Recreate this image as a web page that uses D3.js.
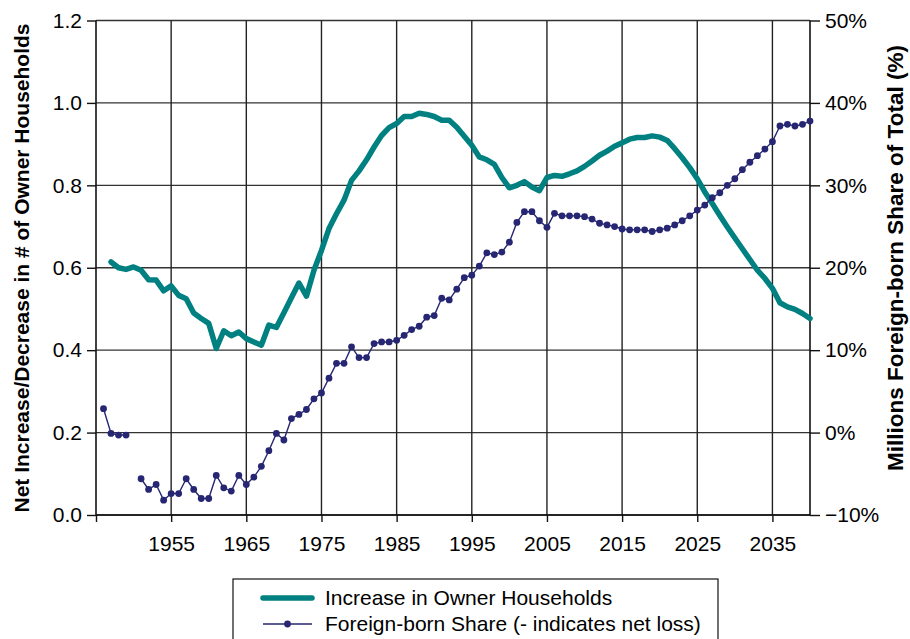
<!DOCTYPE html>
<html><head><meta charset="utf-8">
<script src="https://cdn.jsdelivr.net/npm/d3@7/dist/d3.min.js"></script>
<style>
html,body{margin:0;padding:0;background:#fff;}
svg text{font-family:"Liberation Sans",Arial,sans-serif;fill:#000;}
</style></head>
<body>
<svg id="chart" width="910" height="639"></svg>
<script>
// ---- data ----
const firstYear = 1946, lastYear = 2040;
const years = d3.range(firstYear, lastYear + 1);
// Increase in owner households (millions), 1946..2040 (null = no value)
const ownerHouseholds = [
  null, 0.614, 0.600, 0.596, 0.602, 0.594, 0.571, 0.570, 0.544, 0.556,
  0.533, 0.525, 0.490, 0.477, 0.465, 0.404, 0.447, 0.435, 0.444, 0.428,
  0.420, 0.412, 0.461, 0.455, 0.491, 0.527, 0.563, 0.531, 0.594, 0.642,
  0.695, 0.731, 0.764, 0.812, 0.835, 0.862, 0.893, 0.921, 0.940, 0.950,
  0.967, 0.967, 0.975, 0.972, 0.967, 0.958, 0.958, 0.941, 0.919, 0.897,
  0.869, 0.862, 0.851, 0.819, 0.794, 0.800, 0.809, 0.796, 0.787, 0.819,
  0.824, 0.822, 0.828, 0.835, 0.846, 0.859, 0.873, 0.883, 0.895, 0.903,
  0.912, 0.916, 0.916, 0.920, 0.917, 0.909, 0.889, 0.867, 0.843, 0.816,
  0.784, 0.756, 0.727, 0.699, 0.672, 0.646, 0.620, 0.594, 0.574, 0.550,
  0.515, 0.505, 0.499, 0.489, 0.477
];
// Foreign-born share (%), 1946..2040 (null = no value)
const foreignShare = [
  2.9, -0.1, -0.3, -0.3, null, -5.6, -6.9, -6.3, -8.2, -7.4,
  -7.4, -5.6, -6.9, -8.0, -8.0, -5.2, -6.7, -7.1, -5.2, -6.3,
  -5.4, -4.1, -2.2, -0.1, -0.9, 1.7, 2.2, 2.8, 4.1, 4.8,
  6.6, 8.4, 8.4, 10.4, 9.1, 9.1, 10.8, 11.0, 11.0, 11.2,
  11.8, 12.5, 12.9, 14.0, 14.2, 16.3, 16.1, 17.4, 18.8, 19.1,
  20.2, 21.8, 21.6, 21.9, 23.1, 25.5, 26.8, 26.8, 25.7, 24.9,
  26.6, 26.3, 26.3, 26.3, 26.2, 25.9, 25.4, 25.2, 25.0, 24.7,
  24.6, 24.6, 24.6, 24.4, 24.6, 24.8, 25.2, 25.7, 26.3, 27.0,
  27.6, 28.5, 29.1, 30.0, 30.8, 31.9, 32.8, 33.6, 34.4, 35.3,
  37.2, 37.4, 37.2, 37.4, 37.8
];
const xTickYears = [1955, 1965, 1975, 1985, 1995, 2005, 2015, 2025, 2035];
const leftTicks = [0, 0.2, 0.4, 0.6, 0.8, 1.0, 1.2];
const rightTicks = [-10, 0, 10, 20, 30, 40, 50];
const seriesNames = ["Increase in Owner Households", "Foreign-born Share (- indicates net loss)"];
const leftTitle = "Net Increase/Decrease in # of Owner Households";
const rightTitle = "Millions Foreign-born Share of Total (%)";

// ---- layout ----
const L = 96, R = 810, T = 20.5, B = 515;
const teal = "#008080", navy = "#262673";
const svg = d3.select("#chart");

const x = d3.scaleLinear().domain([1945, 2040]).range([L, R]);
const yL = d3.scaleLinear().domain([0, 1.2]).range([B, T]);
const yR = d3.scaleLinear().domain([-10, 50]).range([B, T]);

// gridlines
const grid = svg.append("g");
grid.selectAll("line.h").data(leftTicks).join("line")
  .attr("x1", L).attr("x2", R).attr("y1", d => yL(d)).attr("y2", d => yL(d))
  .attr("stroke", "#333").attr("stroke-width", 1.4);
grid.selectAll("line.v").data(xTickYears).join("line")
  .attr("x1", d => x(d)).attr("x2", d => x(d)).attr("y1", T).attr("y2", B)
  .attr("stroke", "#222").attr("stroke-width", 1.4);

// axes
const fs = 21;
const gx = svg.append("g").attr("transform", `translate(0,${B})`)
  .call(d3.axisBottom(x).tickValues([1945, ...xTickYears]).tickFormat(d => d === 1945 ? "" : String(d)).tickSize(7).tickPadding(14));
const gl = svg.append("g").attr("transform", `translate(${L},0)`)
  .call(d3.axisLeft(yL).tickValues(leftTicks).tickFormat(d3.format(".1f")).tickSize(9).tickPadding(5));
const gr = svg.append("g").attr("transform", `translate(${R},0)`)
  .call(d3.axisRight(yR).tickValues(rightTicks).tickFormat(d => (d < 0 ? "\u2212" + Math.abs(d) : d) + "%").tickSize(10).tickPadding(5));
[gx, gl, gr].forEach(g => {
  g.select(".domain").attr("stroke", "#111").attr("stroke-width", 1.6);
  g.selectAll(".tick line").attr("stroke", "#111").attr("stroke-width", 1.4);
  g.selectAll(".tick text").attr("font-size", fs).attr("font-family", "Liberation Sans, Arial, sans-serif").attr("fill", "#000");
});
gl.select(".domain").attr("d", `M0,${T}V${B}`);
gr.select(".domain").attr("d", `M0,${T}V${B}`);
gx.select(".domain").attr("d", `M${L},0H${R}`);

// axis titles
svg.append("text").attr("transform", `translate(29,268) rotate(-90)`)
  .attr("text-anchor", "middle").attr("font-weight", "bold").attr("font-size", 21).text(leftTitle);
svg.append("text").attr("transform", `translate(903,258) rotate(-90)`)
  .attr("text-anchor", "middle").attr("font-weight", "bold").attr("font-size", 22.5).text(rightTitle);

// series
const ownerData = years.map((yr, i) => ({ yr, v: ownerHouseholds[i] }));
const foreignData = years.map((yr, i) => ({ yr, v: foreignShare[i] }));

svg.append("path").datum(ownerData)
  .attr("fill", "none").attr("stroke", teal).attr("stroke-width", 5.5)
  .attr("stroke-linejoin", "round").attr("stroke-linecap", "round")
  .attr("d", d3.line().defined(d => d.v != null).x(d => x(d.yr)).y(d => yL(d.v)));

svg.append("path").datum(foreignData)
  .attr("fill", "none").attr("stroke", navy).attr("stroke-width", 1.4)
  .attr("d", d3.line().defined(d => d.v != null).x(d => x(d.yr)).y(d => yR(d.v)));
svg.append("g").selectAll("circle").data(foreignData.filter(d => d.v != null)).join("circle")
  .attr("cx", d => x(d.yr)).attr("cy", d => yR(d.v)).attr("r", 3.4).attr("fill", navy);

// legend
const lg = svg.append("g");
lg.append("rect").attr("x", 233).attr("y", 579).attr("width", 485).attr("height", 80)
  .attr("fill", "#fff").attr("stroke", "#111").attr("stroke-width", 1.2);
lg.append("line").attr("x1", 263).attr("x2", 312).attr("y1", 598).attr("y2", 598)
  .attr("stroke", teal).attr("stroke-width", 5.5).attr("stroke-linecap", "round");
lg.append("text").attr("x", 325).attr("y", 605).attr("font-size", fs).text(seriesNames[0]);
lg.append("line").attr("x1", 263).attr("x2", 312).attr("y1", 624).attr("y2", 624)
  .attr("stroke", navy).attr("stroke-width", 1.4);
lg.append("circle").attr("cx", 287.5).attr("cy", 624).attr("r", 3.4).attr("fill", navy);
lg.append("text").attr("x", 325).attr("y", 631).attr("font-size", fs).text(seriesNames[1]);
</script>
</body></html>
